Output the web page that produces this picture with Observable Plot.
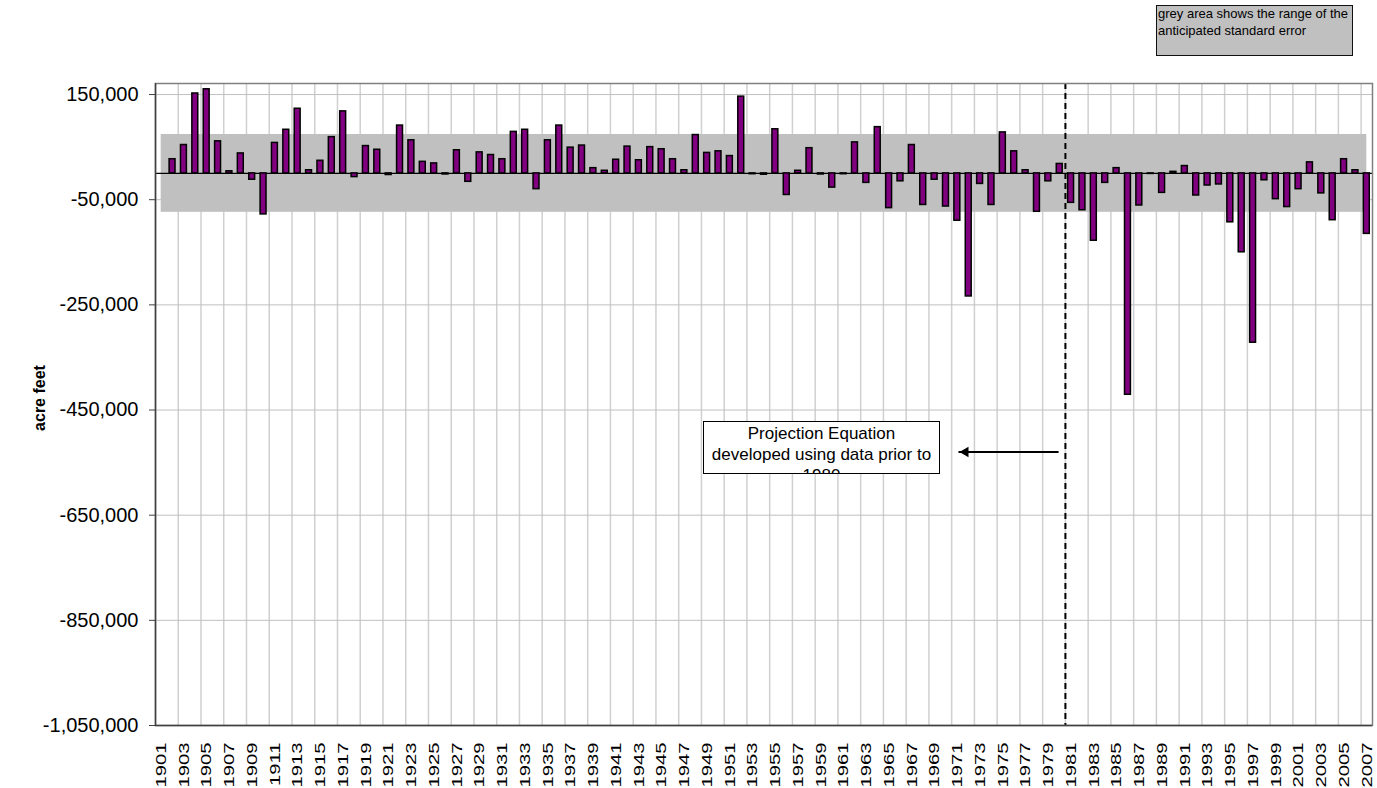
<!DOCTYPE html>
<html>
<head>
<meta charset="utf-8">
<script src="https://cdn.jsdelivr.net/npm/d3@7"></script>
<script src="https://cdn.jsdelivr.net/npm/@observablehq/plot@0.6"></script>
<style>
  body { margin: 0; background: #fff; font-family: "Liberation Sans", Arial, sans-serif; }
  #wrap { position: relative; width: 1377px; height: 788px; overflow: hidden; }
  #legend { position: absolute; left: 1156px; top: 5px; width: 197px; height: 51px; box-sizing: border-box;
            border: 1.5px solid #111; background: #c0c0c0; font-size: 13px; line-height: 17px; padding: 0 0 0 1px; color: #000; }
  #legend div { position: relative; top: -1px; }
  #note { position: absolute; left: 703px; top: 421px; width: 237px; height: 53px; box-sizing: border-box;
          border: 1px solid #000; background: #fff; font-size: 17px; line-height: 21px; text-align: center;
          overflow: hidden; padding-top: 1px; color: #000; }
  #ylabel { position: absolute; left: 40px; top: 398px; transform: translate(-50%, -50%) rotate(-90deg);
            font-weight: bold; font-size: 16px; white-space: nowrap; color: #000; }
</style>
</head>
<body>
<div id="wrap"></div>
<script>
// ---- data ----
const firstYear = 1901;
// annual deviation (acre feet), 1901 .. 2007 (1901 has no bar)
const values = [
  null, 27000, 54000, 152000, 160000, 61000, 4000, 38000, -12000, -78000,          // 1901-1910
  58000, 83000, 123000, 6000, 24000, 69000, 118000, -7000, 52000, 45000,            // 1911-1920
  -3000, 91000, 63000, 22000, 19000, -2000, 44000, -16000, 40000, 35000,            // 1921-1930
  27000, 79000, 83000, -30000, 63000, 91000, 49000, 53000, 10000, 5000,             // 1931-1940
  26000, 51000, 25000, 50000, 46000, 27000, 6000, 73000, 39000, 42000,              // 1941-1950
  33000, 146000, -1500, -2500, 84000, -41000, 5000, 48000, -2000, -27000,           // 1951-1960
  -1500, 59000, -18000, 88000, -66000, -15000, 54000, -60000, -12000, -63000,       // 1961-1970
  -90000, -234000, -20000, -60000, 78000, 42000, 6000, -73000, -15000, 18000,       // 1971-1980
  -56000, -70000, -128000, -18000, 10000, -421000, -61000, -1000, -37000, 3000,     // 1981-1990
  14000, -42000, -23000, -21000, -93000, -150000, -322000, -13000, -49000, -64000,  // 1991-2000
  -30000, 21000, -38000, -89000, 27000, 6000, -115000                               // 2001-2007
];
const years = values.map((_, i) => firstYear + i);
const stdError = 74000;
const yTicks = [150000, -50000, -250000, -450000, -650000, -850000, -1050000];
const yDomain = [-1050000, 171000];
const xTickYears = years.filter(y => (y - firstYear) % 2 === 0);
const gridYears = years.filter(y => (y - firstYear) % 2 === 1 && y < years[years.length - 1]);
const splitYear = 1980;
const arrowFrom = 1979.9, arrowTo = 1971.1, arrowY = -530000;
const noteLines = ["Projection Equation", "developed using data prior to", "1980"];
const legendLines = ["grey area shows the range of the", "anticipated standard error"];
const yLabel = "acre feet";

// ---- build ----
const data = years.map((year, i) => ({year, value: values[i]})).filter(d => d.value != null);
const halfBar = 0.26;
const lastYear = years[years.length - 1];
const fmt = d3.formatLocale({decimal: ".", thousands: ",", grouping: [3], currency: ["$", ""], minus: "-"}).format(",");

const chart = Plot.plot({
  width: 1377,
  height: 788,
  marginLeft: 155,
  marginRight: 5,
  marginTop: 83,
  marginBottom: 63,
  style: {fontFamily: "'Liberation Sans', Arial, sans-serif", background: "#fff", color: "#000"},
  x: {type: "linear", domain: [firstYear - 0.5, lastYear + 0.5]},
  y: {domain: yDomain},
  marks: [
    Plot.ruleX(gridYears, {x: d => d + 0.5, stroke: "#d0d0d0", strokeWidth: 1.5}),
    Plot.ruleY(yTicks, {stroke: "#c0c0c0", strokeWidth: 1}),
    Plot.rect([{x1: years[0], x2: lastYear, y1: -stdError, y2: stdError}],
      {x1: "x1", x2: "x2", y1: "y1", y2: "y2", fill: "#c0c0c0"}),
    Plot.ruleY([0], {stroke: "#000", strokeWidth: 1.2}),
    Plot.rect(data, {x1: d => d.year - halfBar, x2: d => d.year + halfBar, y1: d => 0, y2: "value",
      fill: "#800080", stroke: "#000", strokeWidth: 1.5}),
    Plot.ruleX([splitYear], {x: d => d + 0.5, stroke: "#000", strokeWidth: 2, strokeDasharray: "6,4"}),
    Plot.link([{a: arrowFrom, b: arrowTo, y: arrowY}], {x1: "a", x2: "b", y1: "y", y2: "y", stroke: "#000", strokeWidth: 2}),
    Plot.dot([{x: arrowTo, y: arrowY}], {x: "x", y: "y", symbol: "triangle2", r: 5, fill: "#000", rotate: -90, dx: 7}),
    Plot.frame({stroke: "#808080", strokeWidth: 1.5}),
    Plot.ruleX([firstYear - 0.5], {stroke: "#404040", strokeWidth: 1.5}),
    Plot.ruleY([yDomain[0]], {stroke: "#404040", strokeWidth: 1.5}),
    Plot.axisY(yTicks, {tickFormat: fmt, tickSize: 6, tickPadding: 11, fontSize: 20,
      stroke: "#404040", fill: "#000", label: null}),
    Plot.axisX(xTickYears, {tickRotate: -90, tickSize: 0, tickPadding: 17, tickFormat: d => String(d),
      fontSize: 15, fill: "#000", label: null})
  ]
});

const wrap = document.getElementById("wrap");
wrap.appendChild(chart);

// stretch the rotated year labels along their reading direction, as in the source
chart.querySelectorAll('[aria-label="x-axis tick label"] text').forEach(t => {
  const tr = t.getAttribute("transform") || "";
  t.setAttribute("transform", tr + " scale(1.35,1)");
});

const legend = document.createElement("div");
legend.id = "legend";
legend.innerHTML = legendLines.map(s => `<div>${s}</div>`).join("");
wrap.appendChild(legend);

const note = document.createElement("div");
note.id = "note";
note.innerHTML = noteLines.join("<br>");
wrap.appendChild(note);

const yl = document.createElement("div");
yl.id = "ylabel";
yl.textContent = yLabel;
wrap.appendChild(yl);
</script>
</body>
</html>
